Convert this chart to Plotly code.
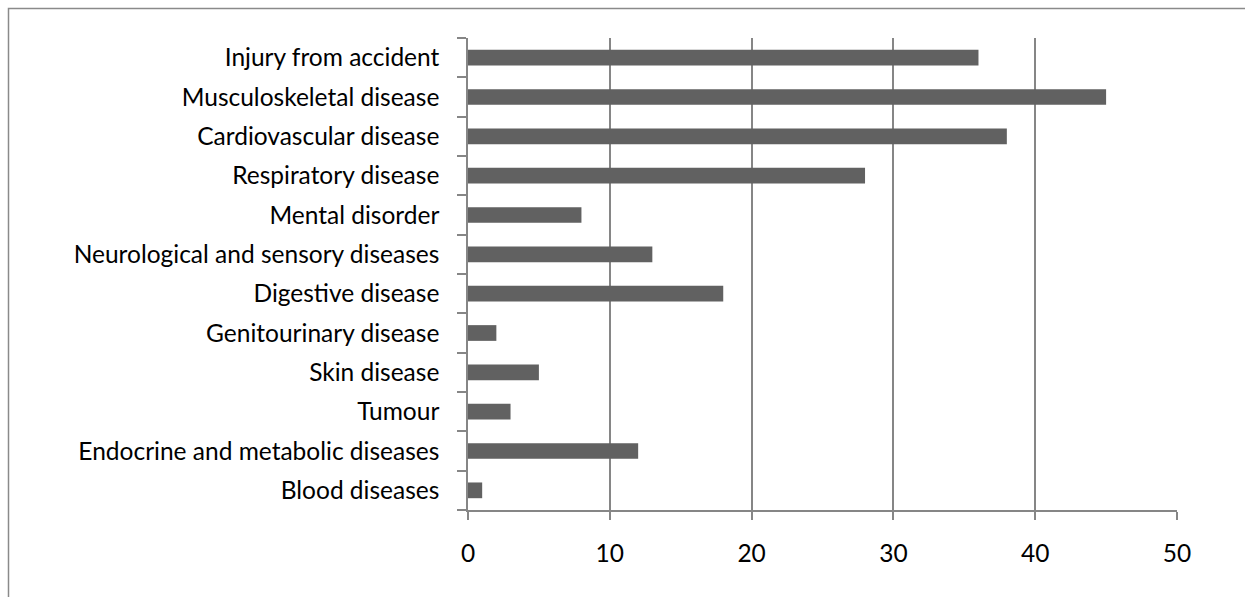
import plotly.graph_objects as go

# Disease categories (top to bottom) and counts
categories = [
    "Injury from accident",
    "Musculoskeletal disease",
    "Cardiovascular disease",
    "Respiratory disease",
    "Mental disorder",
    "Neurological and sensory diseases",
    "Digestive disease",
    "Genitourinary disease",
    "Skin disease",
    "Tumour",
    "Endocrine and metabolic diseases",
    "Blood diseases",
]
counts = [36, 45, 38, 28, 8, 13, 18, 2, 5, 3, 12, 1]
x_ticks = [0, 10, 20, 30, 40, 50]

W, H = 1245, 597
L, R, T, B = 468, 68, 38, 87
pw, ph = W - L - R, H - T - B

fig = go.Figure(
    go.Bar(
        y=categories,
        x=counts,
        orientation="h",
        marker=dict(color="#616161", line=dict(width=0)),
        width=0.4,
    )
)

font = dict(family="Lato, 'Open Sans', sans-serif", size=24.5, color="#000000")

fig.update_layout(
    width=W,
    height=H,
    margin=dict(l=L, r=R, t=T, b=B, pad=0),
    paper_bgcolor="white",
    plot_bgcolor="white",
    showlegend=False,
    font=font,
    xaxis=dict(
        range=[0, 50],
        tickvals=x_ticks,
        ticktext=[str(v) for v in x_ticks],
        showgrid=True,
        gridcolor="#868686",
        gridwidth=1.5,
        zeroline=False,
        showline=True,
        linecolor="#868686",
        linewidth=1.5,
        ticks="outside",
        ticklen=8,
        tickwidth=1.5,
        tickcolor="#868686",
        ticklabelstandoff=13,
        tickfont=font,
        fixedrange=True,
    ),
    yaxis=dict(
        categoryorder="array",
        categoryarray=categories[::-1],
        tickson="boundaries",
        showgrid=False,
        zeroline=False,
        showline=True,
        linecolor="#868686",
        linewidth=1.5,
        ticks="outside",
        ticklen=9,
        tickwidth=1.5,
        tickcolor="#868686",
        ticklabelstandoff=22,
        tickfont=font,
        fixedrange=True,
    ),
)

# Outer frame around the chart area (left and top edges visible)
def px_to_paper_x(px):
    return (px - L) / pw


def px_to_paper_y(py):
    return (H - B - py) / ph


fig.add_shape(
    type="rect",
    xref="paper",
    yref="paper",
    x0=px_to_paper_x(8.5),
    x1=px_to_paper_x(W + 20),
    y0=px_to_paper_y(H + 20),
    y1=px_to_paper_y(8.5),
    line=dict(color="#8a8a8a", width=1.5),
    fillcolor="rgba(0,0,0,0)",
    layer="below",
)

fig.write_html("out.html", config={"displayModeBar": False})
